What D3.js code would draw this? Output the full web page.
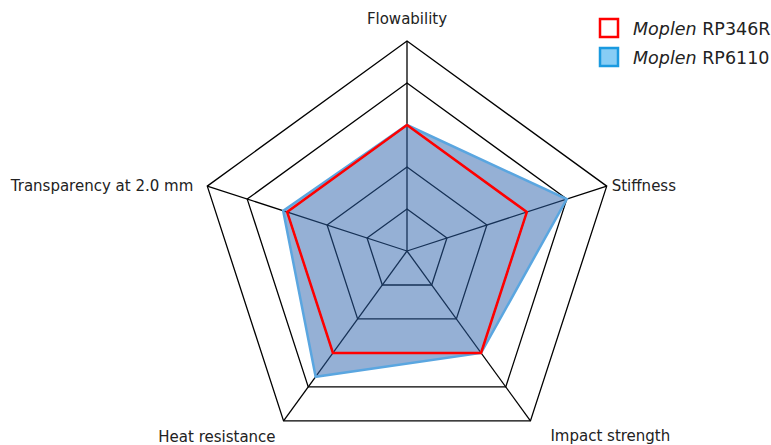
<!DOCTYPE html>
<html>
<head>
<meta charset="utf-8">
<script src="https://cdn.jsdelivr.net/npm/d3@7"></script>
<style>
  body { margin: 0; background: #fff; }
  svg text { font-family: "DejaVu Sans", sans-serif; fill: #222; }
</style>
</head>
<body>
<div id="chart"></div>
<script>
// axes of the radar, clockwise from the top
const axes = ["Flowability", "Stiffness", "Impact strength", "Heat resistance", "Transparency at 2.0 mm"];
const ringLevels = [1, 2, 3, 4, 5];
const seriesNames = ["RP346R", "RP6110"];
const rp346r = [3, 3, 3, 3, 3];
const rp6110 = [3, 4, 3, 3.7, 3.1];

const width = 771, height = 445;
const cx = 407, cy = 251;

const svg = d3.select("#chart")
  .append("svg")
  .attr("width", width)
  .attr("height", height);

const g = svg.append("g").attr("transform", `translate(${cx},${cy})`);

const r = d3.scaleLinear().domain([0, 5]).range([0, 210]);
const angle = d3.scaleLinear().domain([0, axes.length]).range([0, 2 * Math.PI]);

function pt(i, v) {
  const a = angle(i) - Math.PI / 2;
  return [r(v) * Math.cos(a), r(v) * Math.sin(a)];
}

const line = d3.line().curve(d3.curveLinearClosed);

// grid rings
g.selectAll(".ring")
  .data(ringLevels)
  .enter()
  .append("path")
  .attr("class", "ring")
  .attr("d", lv => line(axes.map((_, i) => pt(i, lv))))
  .attr("fill", "none")
  .attr("stroke", "#000")
  .attr("stroke-width", 1.3);

// spokes
g.selectAll(".spoke")
  .data(axes)
  .enter()
  .append("line")
  .attr("x1", 0).attr("y1", 0)
  .attr("x2", (d, i) => pt(i, 5)[0])
  .attr("y2", (d, i) => pt(i, 5)[1])
  .attr("stroke", "#000")
  .attr("stroke-width", 1.3);

// RP6110 area
g.append("path")
  .attr("d", line(rp6110.map((v, i) => pt(i, v))))
  .attr("fill", "rgba(44,98,172,0.5)")
  .attr("stroke", "#5aa6e0")
  .attr("stroke-width", 2.5)
  .attr("stroke-linejoin", "miter");

// RP346R outline
g.append("path")
  .attr("d", line(rp346r.map((v, i) => pt(i, v))))
  .attr("fill", "none")
  .attr("stroke", "#ff0000")
  .attr("stroke-width", 2.5)
  .attr("stroke-linejoin", "miter");

// axis labels
const labelPos = [
  { dx: 0, dy: -17, anchor: "middle" },
  { dx: 5, dy: 5, anchor: "start" },
  { dx: 20, dy: 20, anchor: "start" },
  { dx: -8, dy: 21, anchor: "end" },
  { dx: -14, dy: 5, anchor: "end" }
];
g.selectAll(".axis-label")
  .data(axes)
  .enter()
  .append("text")
  .attr("class", "axis-label")
  .attr("x", (d, i) => pt(i, 5)[0] + labelPos[i].dx)
  .attr("y", (d, i) => pt(i, 5)[1] + labelPos[i].dy)
  .attr("text-anchor", (d, i) => labelPos[i].anchor)
  .style("font-size", "15px")
  .text(d => d);

// legend
const legend = svg.append("g").attr("transform", "translate(599,18)");
const swatch = [
  { fill: "#fff", stroke: "#ff0000" },
  { fill: "#87cdf5", stroke: "#1a9ae0" }
];
const items = legend.selectAll(".item")
  .data(seriesNames)
  .enter()
  .append("g")
  .attr("transform", (d, i) => `translate(0,${i * 29})`);
items.append("rect")
  .attr("x", 1).attr("y", 1)
  .attr("width", 18).attr("height", 18)
  .attr("fill", (d, i) => swatch[i].fill)
  .attr("stroke", (d, i) => swatch[i].stroke)
  .attr("stroke-width", 2.5);
const t = items.append("text")
  .attr("x", 34).attr("y", 17)
  .style("font-size", "17.5px");
t.append("tspan").style("font-style", "italic").text("Moplen");
t.append("tspan").text(d => " " + d);
</script>
</body>
</html>
